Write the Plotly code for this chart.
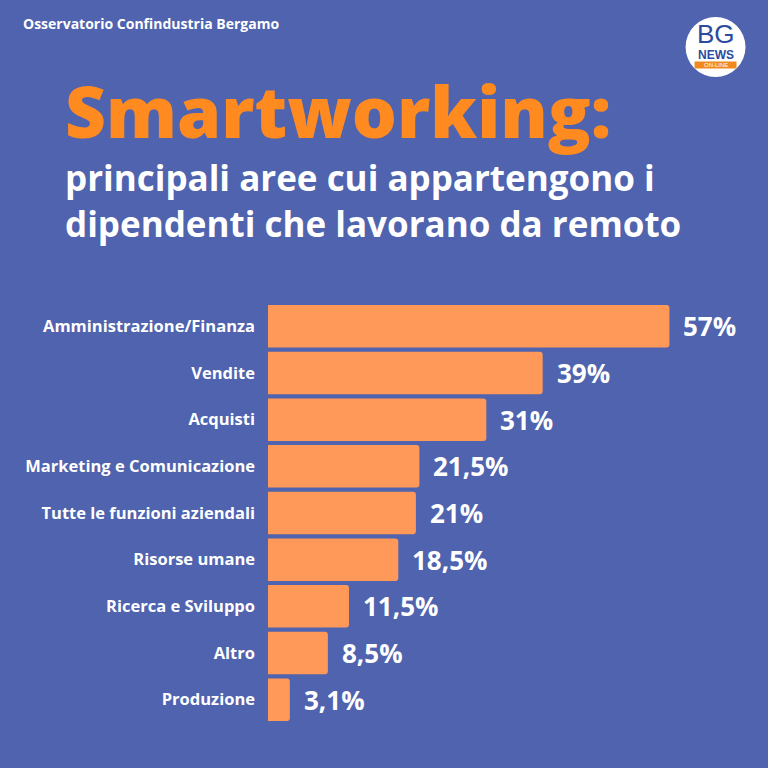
import plotly.graph_objects as go

categories = ["Amministrazione/Finanza", "Vendite", "Acquisti", "Marketing e Comunicazione",
              "Tutte le funzioni aziendali", "Risorse umane", "Ricerca e Sviluppo", "Altro", "Produzione"]
values = [57, 39, 31, 21.5, 21, 18.5, 11.5, 8.5, 3.1]
value_labels = ["57%", "39%", "31%", "21,5%", "21%", "18,5%", "11,5%", "8,5%", "3,1%"]

BG = "#4F63AE"
BAR = "#FF995A"
ORANGE = "#FF8A1F"
FONT = "Open Sans"
LOGO_BLUE = "#2B4BA0"

W, H = 768, 768
ML, MR, MT, MB = 268, 6.5, 303, 45

fig = go.Figure(go.Bar(
    x=values, y=categories, orientation="h",
    marker=dict(color=BAR, line=dict(width=0)),
    hoverinfo="skip",
))

for v, lab, c in zip(values, value_labels, categories):
    fig.add_annotation(x=v, y=c, text=lab, showarrow=False,
                       xanchor="left", yanchor="middle", xshift=12,
                       font=dict(family=FONT, size=26, color="white", weight=700))

fig.update_layout(
    width=W, height=H,
    paper_bgcolor=BG, plot_bgcolor=BG,
    margin=dict(l=ML, r=MR, t=MT, b=MB),
    bargap=0.09,
    barcornerradius=3,
    showlegend=False,
    xaxis=dict(range=[0, 70], visible=False, fixedrange=True),
    yaxis=dict(autorange="reversed", showgrid=False, zeroline=False, showline=False,
               ticks="", ticklabelstandoff=12, fixedrange=True,
               tickfont=dict(family=FONT, size=16.5, color="white", weight=700)),
)

pw = W - ML - MR
ph = H - MT - MB
def px(x):
    return (x - ML) / pw
def py(y):
    return (H - MB - y) / ph

def txt(x, y, s, size, color, family=FONT, weight=700, xanchor="left"):
    fig.add_annotation(x=px(x), y=py(y), xref="paper", yref="paper", text=s,
                       showarrow=False, xanchor=xanchor, yanchor="middle", align="left",
                       borderpad=0,
                       font=dict(family=family, size=size, color=color, weight=weight))

txt(22, 24, "Osservatorio Confindustria Bergamo", 14, "white")
txt(64, 110, "Smartworking:", 71, ORANGE, weight=800)
txt(64, 200, "principali aree cui appartengono i<br>dipendenti che lavorano da remoto", 35, "white")

# logo
cx, cy, r = 716, 47, 30
fig.add_shape(type="circle", xref="paper", yref="paper",
              x0=px(cx - r), x1=px(cx + r), y0=py(cy + r), y1=py(cy - r),
              fillcolor="white", line=dict(width=0))
fig.add_shape(type="rect", xref="paper", yref="paper",
              x0=px(695), x1=px(737), y0=py(68.5), y1=py(61.5),
              fillcolor="#F08A1E", line=dict(width=0))
txt(716, 33.5, "BG", 26, LOGO_BLUE, family="Liberation Sans", weight=400, xanchor="center")
txt(716, 55, "NEWS", 12, LOGO_BLUE, family="Liberation Sans", weight=700, xanchor="center")
txt(716, 65.2, "ON-LINE", 6, "white", family="Liberation Sans", weight=400, xanchor="center")

fig.write_html("out.html", config={"displayModeBar": False},
               post_script="document.body.style.margin='0';")
